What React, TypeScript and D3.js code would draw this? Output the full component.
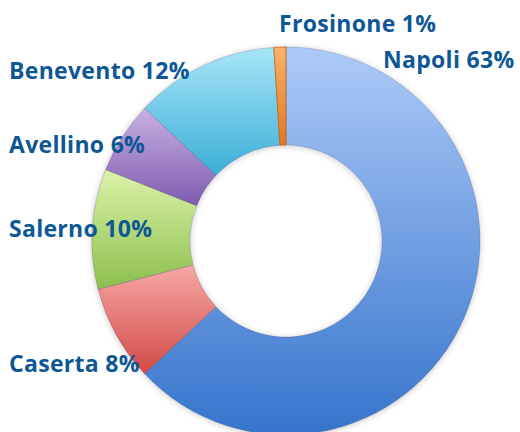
import React from "react";
import * as d3 from "d3";

const categories = ["Napoli", "Caserta", "Salerno", "Avellino", "Benevento", "Frosinone"];
const values = [63, 8, 10, 6, 12, 1];
const colorsTop = ["#adcaf8", "#f6a8a6", "#dcf2a8", "#c9b0e4", "#a8e6f8", "#f8b46a"];
const colorsBottom = ["#3674cc", "#d24a46", "#8cbf4e", "#7e5cae", "#3aaed6", "#e0781e"];
const labelPos: [number, number, string][] = [
  [383, 68, "start"],
  [9, 372, "start"],
  [9, 237, "start"],
  [9, 153, "start"],
  [9, 79, "start"],
  [279, 32, "start"],
];

const W = 520;
const H = 432;
const cx = 286;
const cy = 241;
const outerR = 194;
const innerR = 96;

export default function App() {
  const pie = d3
    .pie<number>()
    .sort(null)
    .startAngle(0)
    .endAngle(2 * Math.PI)
    .value((d) => d);
  const arcs = pie(values);
  const arc = d3.arc<d3.PieArcDatum<number>>().innerRadius(innerR).outerRadius(outerR);

  return (
    <svg
      width={W}
      height={H}
      style={{ position: "fixed", left: 0, top: 0, background: "#fff" }}
    >
      <defs>
        {categories.map((c, i) => (
          <linearGradient key={c} id={`g${i}`} x1="0" y1="0" x2="0" y2="1">
            <stop offset="0%" stopColor={colorsTop[i]} />
            <stop offset="100%" stopColor={colorsBottom[i]} />
          </linearGradient>
        ))}
        <filter id="shadow" x="-20%" y="-20%" width="140%" height="140%">
          <feDropShadow dx="0" dy="1" stdDeviation="3" floodColor="#000" floodOpacity="0.22" />
        </filter>
      </defs>
      <g transform={`translate(${cx},${cy})`} filter="url(#shadow)">
        {arcs.map((a, i) => (
          <path
            key={categories[i]}
            d={arc(a) || ""}
            fill={`url(#g${i})`}
            stroke={i === 5 ? "#c0601a" : "rgba(40,40,80,0.25)"}
            strokeWidth={0.8}
          />
        ))}
      </g>
      {categories.map((c, i) => (
        <text
          key={c}
          x={labelPos[i][0]}
          y={labelPos[i][1]}
          textAnchor={labelPos[i][2] as any}
          fill="#0d5796"
          fontFamily="'Open Sans', sans-serif"
          fontWeight={700}
          fontSize={23}
          letterSpacing={0.3}
        >
          {`${c} ${values[i]}%`}
        </text>
      ))}
    </svg>
  );
}
